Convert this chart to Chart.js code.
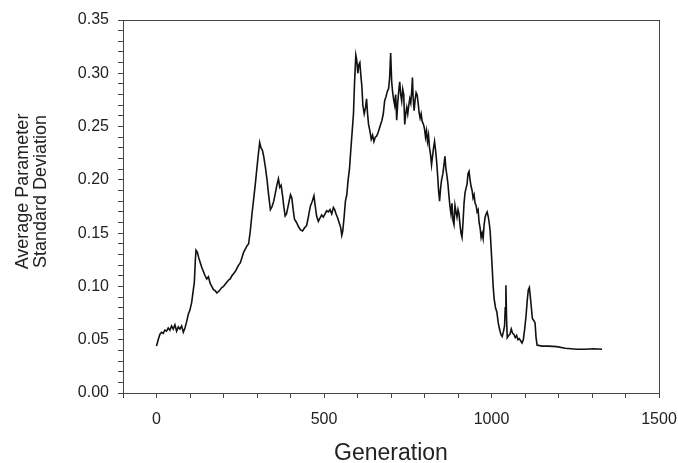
<!DOCTYPE html>
<html lang="en">

<head>
    <meta charset="UTF-8">
    <title>Average Parameter Standard Deviation</title>
    <style>
        html, body {
            margin: 0;
            padding: 0;
            background: #fff;
        }

        #wrap {
            width: 678px;
            height: 463px;
        }
    </style>
</head>

<body>
    <div id="wrap">
        <canvas id="sdChart" width="678" height="463"></canvas>
    </div>

    <script src="https://cdn.jsdelivr.net/npm/chart.js"></script>

    <script>
        const generations = [
            0, 5, 10, 15, 20, 25, 30, 35, 40, 45, 50, 55, 60, 65, 70, 75, 80, 85, 90, 95,
            100, 105, 110, 113, 116, 118, 122, 126, 130, 135, 140, 145, 150, 155, 160, 165, 170, 175, 180, 185,
            190, 195, 200, 205, 210, 215, 220, 225, 230, 235, 240, 245, 250, 255, 260, 265, 270, 275, 280, 285,
            290, 295, 300, 304, 308, 312, 316, 320, 325, 330, 335, 340, 345, 350, 355, 360, 364, 368, 372, 376,
            380, 384, 388, 392, 396, 400, 404, 408, 412, 418, 424, 430, 436, 442, 448, 452, 456, 460, 465, 470,
            474, 478, 483, 488, 493, 498, 503, 508, 513, 518, 523, 528, 532, 536, 540, 545, 550, 553, 556, 560,
            564, 568, 572, 576, 580, 584, 588, 591, 595, 598, 601, 604, 607, 610, 613, 616, 620, 624, 627, 630,
            633, 637, 641, 645, 649, 653, 657, 661, 665, 669, 673, 677, 681, 685, 689, 693, 696, 699, 702, 705,
            708, 711, 714, 717, 720, 723, 726, 729, 732, 735, 738, 741, 744, 747, 750, 753, 756, 759, 762, 764,
            766, 769, 772, 775, 778, 781, 784, 787, 790, 793, 797, 800, 803, 806, 809, 812, 815, 818, 821, 824,
            827, 830, 833, 836, 839, 842, 845, 848, 851, 855, 858, 861, 864, 867, 870, 873, 876, 879, 882, 885,
            888, 891, 894, 897, 900, 903, 906, 909, 912, 915, 918, 921, 924, 927, 930, 933, 936, 939, 942, 945,
            948, 951, 954, 957, 960, 963, 966, 969, 972, 975, 978, 981, 984, 987, 990, 993, 996, 999, 1002, 1005,
            1008, 1012, 1016, 1020, 1024, 1028, 1032, 1036, 1039, 1041, 1043, 1045, 1047, 1051, 1055, 1059, 1063, 1067, 1071, 1075,
            1079, 1083, 1087, 1091, 1095, 1099, 1103, 1107, 1110, 1113, 1116, 1119, 1122, 1126, 1130, 1133, 1136, 1150, 1170, 1195,
            1220, 1254, 1280, 1305, 1330
        ];

        const avgStdDev = [
            0.044, 0.050, 0.055, 0.057, 0.056, 0.059, 0.058, 0.061, 0.059, 0.063, 0.060, 0.064, 0.058, 0.062, 0.060, 0.063, 0.057, 0.061, 0.067, 0.074,
            0.078, 0.085, 0.097, 0.104, 0.125, 0.134, 0.132, 0.127, 0.123, 0.118, 0.114, 0.110, 0.107, 0.109, 0.103, 0.100, 0.097, 0.096, 0.094, 0.095,
            0.097, 0.099, 0.100, 0.102, 0.104, 0.106, 0.107, 0.110, 0.112, 0.114, 0.117, 0.120, 0.122, 0.127, 0.132, 0.135, 0.138, 0.140, 0.152, 0.168,
            0.182, 0.196, 0.212, 0.224, 0.235, 0.230, 0.228, 0.222, 0.212, 0.200, 0.185, 0.172, 0.175, 0.180, 0.188, 0.196, 0.201, 0.193, 0.195, 0.186,
            0.175, 0.166, 0.168, 0.174, 0.180, 0.186, 0.183, 0.172, 0.163, 0.160, 0.156, 0.153, 0.152, 0.155, 0.157, 0.163, 0.170, 0.176, 0.180, 0.185,
            0.175, 0.166, 0.161, 0.164, 0.167, 0.165, 0.168, 0.171, 0.170, 0.172, 0.168, 0.174, 0.172, 0.168, 0.165, 0.160, 0.155, 0.148, 0.152, 0.165,
            0.180, 0.186, 0.200, 0.210, 0.228, 0.245, 0.262, 0.290, 0.317, 0.312, 0.300, 0.308, 0.310, 0.298, 0.288, 0.270, 0.262, 0.268, 0.276, 0.262,
            0.252, 0.246, 0.238, 0.242, 0.236, 0.240, 0.241, 0.244, 0.248, 0.252, 0.256, 0.262, 0.274, 0.278, 0.283, 0.286, 0.296, 0.319, 0.292, 0.282,
            0.275, 0.270, 0.280, 0.256, 0.272, 0.283, 0.292, 0.280, 0.274, 0.285, 0.280, 0.252, 0.262, 0.268, 0.262, 0.270, 0.276, 0.272, 0.284, 0.296,
            0.278, 0.265, 0.275, 0.282, 0.280, 0.272, 0.263, 0.258, 0.262, 0.255, 0.252, 0.248, 0.240, 0.246, 0.236, 0.242, 0.230, 0.224, 0.214, 0.222,
            0.230, 0.236, 0.228, 0.218, 0.205, 0.190, 0.180, 0.192, 0.200, 0.206, 0.214, 0.222, 0.210, 0.204, 0.196, 0.185, 0.175, 0.168, 0.178, 0.162,
            0.158, 0.176, 0.170, 0.165, 0.172, 0.168, 0.158, 0.150, 0.146, 0.160, 0.178, 0.188, 0.192, 0.196, 0.206, 0.208, 0.200, 0.194, 0.190, 0.183,
            0.186, 0.178, 0.176, 0.170, 0.172, 0.160, 0.155, 0.146, 0.150, 0.145, 0.158, 0.165, 0.168, 0.170, 0.166, 0.160, 0.152, 0.135, 0.118, 0.100,
            0.088, 0.080, 0.076, 0.066, 0.060, 0.055, 0.053, 0.058, 0.063, 0.080, 0.101, 0.070, 0.052, 0.054, 0.055, 0.060, 0.056, 0.055, 0.052, 0.054,
            0.050, 0.051, 0.049, 0.047, 0.050, 0.060, 0.072, 0.088, 0.097, 0.099, 0.090, 0.080, 0.070, 0.068, 0.066, 0.052, 0.045, 0.044, 0.044, 0.0435,
            0.042, 0.041, 0.041, 0.0415, 0.041
        ];

        const xMajorStep = 500;

        const textColor = "#222";
        const axisColor = "#444";

        // box around the plot area (top and right edges)
        const frame = {
            id: "frame",
            afterDraw(chart) {
                const a = chart.chartArea;
                const c = chart.ctx;
                c.save();
                c.strokeStyle = axisColor;
                c.lineWidth = 1;
                c.strokeRect(a.left + 0.5, a.top + 0.5, a.right - a.left, a.bottom - a.top);
                c.restore();
            }
        };

        const points = generations.map((g, i) => ({ x: g, y: avgStdDev[i] }));

        // leading spaces nudge the rotated title up, as in the original figure
        const yTitlePad = "      ";

        const ctx = document.getElementById("sdChart").getContext("2d");
        const chart = new Chart(ctx, {
            type: "line",
            data: {
                datasets: [{
                    data: points,
                    borderColor: "#111",
                    borderWidth: 1.6,
                    pointRadius: 0,
                    tension: 0,
                    fill: false
                }]
            },
            options: {
                responsive: false,
                animation: false,
                layout: {
                    padding: { left: 0, right: 19, top: 20, bottom: 0 }
                },
                plugins: {
                    legend: { display: false },
                    tooltip: { enabled: false }
                },
                scales: {
                    x: {
                        type: "linear",
                        min: -100,
                        max: 1500,
                        afterFit(scale) {
                            scale.height = 70;
                            scale.paddingLeft = 0;
                            scale.paddingRight = 0;
                        },
                        border: { display: true, color: axisColor, width: 1 },
                        grid: {
                            drawOnChartArea: false,
                            drawTicks: true,
                            tickLength: 5,
                            color: axisColor
                        },
                        ticks: {
                            stepSize: 100,
                            autoSkip: false,
                            maxRotation: 0,
                            color: textColor,
                            padding: 12,
                            font: { family: "Liberation Sans", size: 16 },
                            callback: v => (v % xMajorStep === 0 ? String(v) : "")
                        },
                        title: {
                            display: true,
                            text: "Generation",
                            color: textColor,
                            padding: { top: 0, bottom: 0 },
                            font: { family: "Liberation Sans", size: 23, lineHeight: 0.85 }
                        }
                    },
                    y: {
                        min: 0,
                        max: 0.35,
                        afterFit(scale) {
                            scale.width = 123;
                            scale.paddingTop = 0;
                            scale.paddingBottom = 0;
                        },
                        border: { display: true, color: axisColor, width: 1 },
                        grid: {
                            drawOnChartArea: false,
                            drawTicks: true,
                            tickLength: 5,
                            color: axisColor
                        },
                        ticks: {
                            stepSize: 0.01,
                            autoSkip: false,
                            color: textColor,
                            padding: 9,
                            font: { family: "Liberation Sans", size: 16 },
                            callback: v => {
                                const r = Math.round(v * 100);
                                return r % 5 === 0 ? (r / 100).toFixed(2) : "";
                            }
                        },
                        title: {
                            display: true,
                            text: [yTitlePad + "Average Parameter", yTitlePad + "Standard Deviation"],
                            color: textColor,
                            padding: { top: 14, bottom: 0 },
                            font: { family: "Liberation Sans", size: 18, lineHeight: 1.0 }
                        }
                    }
                }
            },
            plugins: [frame]
        });
    </script>
</body>

</html>
